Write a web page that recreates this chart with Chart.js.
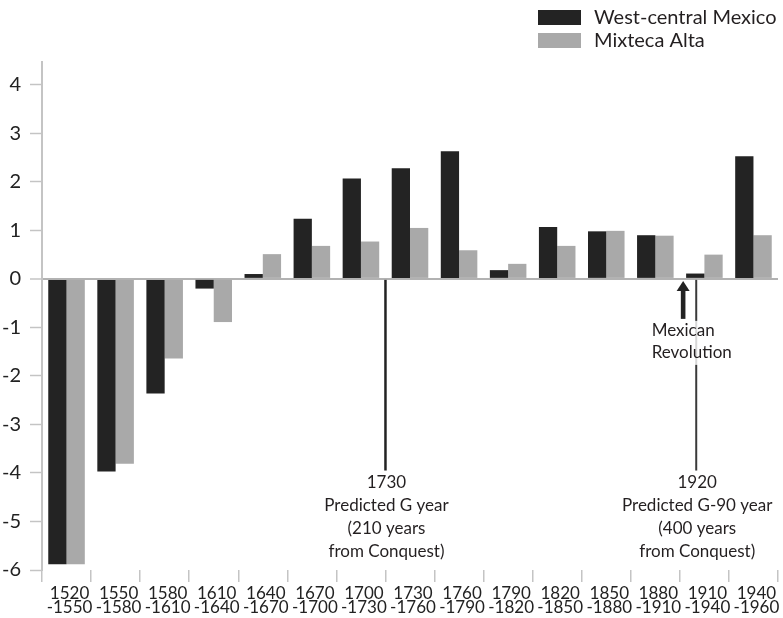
<!DOCTYPE html>
<html>
<head>
<meta charset="utf-8">
<script src="https://cdn.jsdelivr.net/npm/chart.js@4.4.1/dist/chart.umd.min.js"></script>
<style>
html,body{margin:0;padding:0;background:#ffffff;}
#wrap{width:783px;height:618px;position:relative;}
</style>
</head>
<body>
<div id="wrap"><canvas id="c" width="783" height="618"></canvas></div>
<script>
// ---------- data ----------
const periodStarts = [1520, 1550, 1580, 1610, 1640, 1670, 1700, 1730, 1760, 1790, 1820, 1850, 1880, 1910, 1940];
const periodEnds   = [1550, 1580, 1610, 1640, 1670, 1700, 1730, 1760, 1790, 1820, 1850, 1880, 1910, 1940, 1960];
const seriesNames = ['West-central Mexico', 'Mixteca Alta'];
const westCentralMexico = [-5.88, -3.97, -2.36, -0.2, 0.1, 1.24, 2.07, 2.28, 2.63, 0.18, 1.07, 0.98, 0.9, 0.11, 2.53];
const mixtecaAlta       = [-5.88, -3.81, -1.64, -0.89, 0.51, 0.68, 0.77, 1.05, 0.59, 0.31, 0.68, 0.99, 0.89, 0.5, 0.9];
const yTickValues = [-6, -5, -4, -3, -2, -1, 0, 1, 2, 3, 4];
const predictedYears = [1730, 1920];
const predictedLabels = [
  ['1730', 'Predicted G year', '(210 years', 'from Conquest)'],
  ['1920', 'Predicted G-90 year', '(400 years', 'from Conquest)']
];
const revolutionYear = 1912;
const revolutionLabel = ['Mexican', 'Revolution'];

const categories = periodStarts.map((s, i) => [String(s), '-' + periodEnds[i]]);

// ---------- styles ----------
const INK = '#231f20';
const AXIS_GRAY = '#c4c4c4';
const FONT = 'Lato, "Open Sans", sans-serif';

function yearToPixel(chart, year) {
  const xs = chart.scales.x;
  let idx = periodStarts.length - 1;
  for (let i = 0; i < periodStarts.length; i++) {
    if (year >= periodStarts[i] && year < periodEnds[i]) { idx = i; break; }
  }
  const w = xs.getPixelForValue(1) - xs.getPixelForValue(0);
  const left = xs.getPixelForValue(idx) - w / 2;
  return left + (year - periodStarts[idx]) / (periodEnds[idx] - periodStarts[idx]) * w;
}

const legendPlugin = {
  id: 'customLegend',
  afterDraw(chart) {
    const ctx = chart.ctx;
    ctx.save();
    ctx.font = '20px ' + FONT;
    ctx.textBaseline = 'middle';
    ctx.textAlign = 'left';
    chart.data.datasets.forEach((ds, i) => {
      const y = 10 + i * 23;
      ctx.fillStyle = ds.backgroundColor;
      ctx.fillRect(538, y, 43, 15);
      ctx.fillStyle = INK;
      ctx.fillText(ds.label, 594, y + 8);
    });
    ctx.restore();
  }
};

const annotationPlugin = {
  id: 'annotations',
  afterDatasetsDraw(chart) {
    const ctx = chart.ctx;
    const ys = chart.scales.y;
    const y0 = ys.getPixelForValue(0);
    const yEnd = ys.getPixelForValue(-3.95);
    ctx.save();
    // predicted-year lines
    predictedYears.forEach((yr, k) => {
      const x = yearToPixel(chart, yr);
      ctx.strokeStyle = k === 0 ? '#222222' : '#3a3a3a';
      ctx.lineWidth = k === 0 ? 2.5 : 2;
      ctx.beginPath();
      ctx.moveTo(x, y0 + 1);
      ctx.lineTo(x, yEnd);
      ctx.stroke();
    });
    // revolution arrow
    const ax = yearToPixel(chart, revolutionYear);
    ctx.fillStyle = '#222222';
    ctx.beginPath();
    ctx.moveTo(ax, y0 + 2);
    ctx.lineTo(ax - 6.5, y0 + 12);
    ctx.lineTo(ax + 6.5, y0 + 12);
    ctx.closePath();
    ctx.fill();
    ctx.fillRect(ax - 2.3, y0 + 11, 4.6, 29);
    // revolution label with faint backdrop
    ctx.font = '17px ' + FONT;
    ctx.textBaseline = 'middle';
    ctx.textAlign = 'left';
    const mw = ctx.measureText(revolutionLabel[0]).width;
    const lx = ax - mw / 2;
    const rw = Math.max(...revolutionLabel.map(t => ctx.measureText(t).width));
    ctx.fillStyle = 'rgba(255,255,255,0.8)';
    ctx.fillRect(lx - 1, y0 + 42, rw + 2, 44);
    ctx.fillStyle = INK;
    revolutionLabel.forEach((t, i) => ctx.fillText(t, lx, y0 + 52 + i * 22));
    // predicted labels
    ctx.textAlign = 'center';
    predictedYears.forEach((yr, k) => {
      const x = yearToPixel(chart, yr);
      predictedLabels[k].forEach((t, i) => ctx.fillText(t, x + 1, yEnd + 12 + i * 23));
    });
    ctx.restore();
  }
};

new Chart(document.getElementById('c'), {
  type: 'bar',
  data: {
    labels: categories,
    datasets: [
      { label: seriesNames[0], data: westCentralMexico, backgroundColor: '#232323', borderWidth: 0,
        categoryPercentage: 0.745, barPercentage: 1.0 },
      { label: seriesNames[1], data: mixtecaAlta, backgroundColor: '#a9a9a9', borderWidth: 0,
        categoryPercentage: 0.745, barPercentage: 1.0 }
    ]
  },
  options: {
    responsive: false,
    animation: false,
    devicePixelRatio: 1,
    events: [],
    layout: { padding: { top: 62, right: 5, left: 0, bottom: 0 } },
    plugins: { legend: { display: false }, tooltip: { enabled: false } },
    scales: {
      x: {
        offset: true,
        afterFit(s) { s.height = 48; },
        border: { display: false },
        grid: { offset: true, drawOnChartArea: false, drawTicks: true, tickLength: 12,
                color: AXIS_GRAY, tickColor: AXIS_GRAY, lineWidth: 1.5 },
        ticks: { color: '#222222', padding: 4, labelOffset: 3, maxRotation: 0, autoSkip: false,
                 font: { family: FONT, size: 17, lineHeight: 0.85 } }
      },
      y: {
        min: -6,
        max: 4.47,
        afterFit(s) { s.width = 42; },
        afterBuildTicks(s) { s.ticks = yTickValues.map(v => ({ value: v })); },
        border: { display: true, color: AXIS_GRAY, width: 2 },
        grid: {
          drawOnChartArea: true, drawTicks: true, tickLength: 12,
          color: c => (c.tick && c.tick.value === 0) ? '#b2b2b2' : 'rgba(0,0,0,0)',
          lineWidth: c => (c.tick && c.tick.value === 0) ? 2 : 1,
          tickColor: AXIS_GRAY, tickWidth: 1.5
        },
        ticks: { color: '#222222', padding: 9, font: { family: FONT, size: 20 },
                 callback: v => String(v) }
      }
    }
  },
  plugins: [annotationPlugin, legendPlugin]
});
</script>
</body>
</html>
